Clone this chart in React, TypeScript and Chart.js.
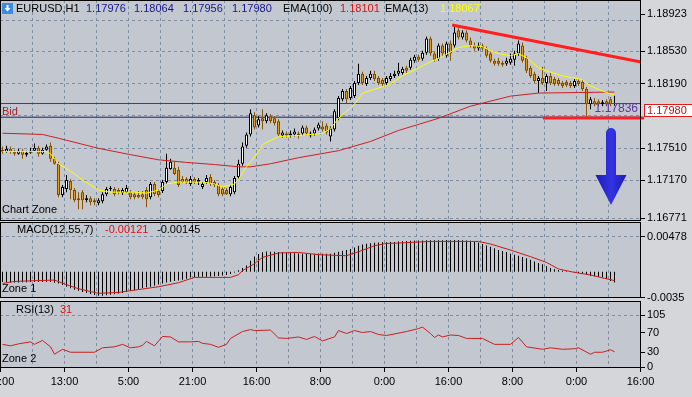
import React, { useEffect, useRef } from "react";
import { Chart, registerables } from "chart.js";

Chart.register(...registerables);

// ---------------- data (prices stored as pips above 1.17000) ----------------
const PIP_BASE = 1.17;

const openPips = [
  49.4, 47.3, 50.4, 47.3, 45.1, 48.3, 44.1, 46.2, 48.3, 51.5,
  45.1, 49.4, 53.6, 39.8, 34.5, 1.5, 7.8, 16.4, 6.8, -1.7,
  4.6, -3.9, -1.7, -3.9, -7.1, -4.9, 2.5, 7.8, 7.8, 6.8,
  3.6, 4.6, 4.6, 2.5, 1.5, 2.5, 6.8, -0.7, 13.2, 5.7,
  5.7, 15.3, 29.1, 30.2, 28.1, 18.5, 18.5, 13.2, 18.5, 15.3,
  10.0, 15.3, 20.6, 15.3, 12.1, 7.8, 6.8, 2.5, 4.6, 20.6,
  34.5, 53.6, 65.4, 85.6, 74.9, 82.4, 79.2, 84.5, 82.4, 79.2,
  64.3, 66.4, 64.3, 65.4, 66.4, 66.4, 72.8, 64.3, 66.4, 71.7,
  73.9, 74.9, 63.2, 70.7, 82.4, 102.6, 111.2, 103.7, 105.8, 119.7,
  129.3, 118.6, 125.0, 129.3, 125.0, 122.9, 119.7, 123.9, 127.1, 129.3,
  130.3, 135.6, 135.6, 143.1, 147.4, 145.2, 151.6, 166.5, 150.6, 145.2,
  159.1, 148.4, 161.2, 159.1, 175.1, 167.6, 172.9, 164.4, 159.1, 155.9,
  159.1, 155.9, 150.6, 143.1, 143.1, 141.0, 139.9, 141.0, 144.2, 150.6,
  159.1, 146.3, 135.6, 129.3, 121.8, 125.0, 119.7, 127.1, 123.9, 122.9,
  119.7, 120.7, 119.7, 116.5, 121.8, 120.7, 113.3, 97.3, 100.5, 100.5,
  97.3, 100.5, 102.6, 97.6,
];
const highPips = [
  52.6, 53.6, 52.6, 49.4, 50.4, 50.4, 48.3, 51.5, 55.8, 53.6,
  51.5, 54.7, 56.8, 41.9, 36.6, 12.1, 22.8, 18.5, 8.9, 4.6,
  6.8, 1.5, 0.4, -1.7, -1.7, 4.6, 10.0, 11.0, 10.0, 8.9,
  8.9, 12.1, 6.8, 4.6, 5.7, 5.7, 10.0, 15.3, 15.3, 7.8,
  17.4, 45.1, 39.8, 36.6, 31.3, 21.7, 20.6, 21.7, 20.6, 19.6,
  15.3, 22.8, 23.8, 17.4, 14.2, 10.0, 8.9, 12.1, 21.7, 38.7,
  56.8, 67.5, 92.0, 88.8, 84.5, 92.0, 87.7, 86.7, 84.5, 81.3,
  69.6, 68.6, 69.6, 71.7, 68.6, 74.9, 74.9, 68.6, 72.8, 78.1,
  79.2, 77.1, 73.9, 92.0, 105.8, 113.3, 113.3, 116.5, 121.8, 139.9,
  131.4, 127.1, 132.5, 132.5, 127.1, 125.0, 127.1, 130.3, 132.5, 141.0,
  136.7, 137.8, 146.3, 149.5, 149.5, 153.7, 168.7, 168.7, 152.7, 161.2,
  161.2, 163.3, 164.4, 181.4, 178.2, 175.1, 175.1, 167.6, 162.3, 162.3,
  161.2, 158.0, 152.7, 145.2, 146.3, 143.1, 146.3, 150.6, 153.7, 164.4,
  162.3, 148.4, 137.8, 131.4, 127.1, 136.7, 129.3, 130.3, 126.0, 125.0,
  121.8, 122.9, 121.8, 123.9, 123.9, 122.9, 115.4, 104.8, 103.7, 102.6,
  101.6, 102.6, 104.8, 106.4,
];
const lowPips = [
  45.1, 46.2, 45.1, 43.0, 44.1, 39.8, 41.9, 45.1, 47.3, 41.9,
  44.1, 48.3, 36.6, 33.4, -0.7, -0.7, 4.6, -2.8, -6.0, -13.5,
  -13.5, -6.0, -9.2, -9.2, -9.2, -7.1, 0.4, 5.7, 0.4, 2.5,
  1.5, 3.6, -2.8, -2.8, -1.7, -2.8, -11.3, -2.8, 0.4, -0.7,
  3.6, 13.2, 28.1, 22.8, 10.0, 14.2, 13.2, 11.0, 13.2, 12.1,
  7.8, 13.2, 11.0, 10.0, 0.4, 0.4, 1.5, 0.4, 2.5, 18.5,
  32.3, 51.5, 63.2, 70.7, 72.8, 70.7, 77.1, 77.1, 74.9, 63.2,
  62.2, 62.2, 62.2, 63.2, 61.1, 64.3, 64.3, 62.2, 64.3, 69.6,
  68.6, 65.4, 57.9, 68.6, 80.3, 100.5, 98.4, 101.6, 103.7, 117.5,
  117.5, 116.5, 122.9, 121.8, 117.5, 116.5, 117.5, 121.8, 125.0, 127.1,
  128.2, 130.3, 133.5, 141.0, 142.0, 143.1, 149.5, 148.4, 142.0, 143.1,
  148.4, 146.3, 143.1, 157.0, 165.5, 165.5, 162.3, 157.0, 153.7, 153.7,
  153.7, 146.3, 141.0, 137.8, 137.8, 136.7, 137.8, 138.8, 137.8, 148.4,
  141.0, 130.3, 125.0, 119.7, 109.0, 117.5, 111.2, 117.5, 116.5, 116.5,
  114.3, 115.4, 114.3, 114.3, 116.5, 111.2, 82.4, 92.0, 95.2, 95.2,
  95.2, 95.2, 95.2, 95.6,
];
const closePips = [
  47.3, 50.4, 47.3, 45.1, 48.3, 44.1, 46.2, 48.3, 51.5, 45.1,
  49.4, 52.6, 39.8, 34.5, 1.5, 10.0, 17.4, 6.8, -3.9, -3.9,
  -3.9, -1.7, -6.0, -6.0, -3.9, 2.5, 7.8, 8.9, 2.5, 4.6,
  6.8, 8.9, -0.7, -0.7, -0.7, -0.7, -2.8, 13.2, 2.5, 1.5,
  15.3, 30.2, 36.6, 23.8, 12.1, 15.3, 15.3, 18.5, 15.3, 17.4,
  13.2, 19.6, 13.2, 12.1, 2.5, 2.5, 2.5, 10.0, 19.6, 34.5,
  52.6, 65.4, 87.7, 72.8, 81.3, 79.2, 85.6, 79.2, 77.1, 65.4,
  67.5, 64.3, 66.4, 68.6, 64.3, 72.8, 66.4, 66.4, 70.7, 76.0,
  70.7, 67.5, 71.7, 89.9, 103.7, 111.2, 102.6, 114.3, 119.7, 129.3,
  119.7, 125.0, 129.3, 123.9, 119.7, 118.6, 125.0, 127.1, 129.3, 132.5,
  134.6, 132.5, 144.2, 147.4, 144.2, 151.6, 166.5, 150.6, 144.2, 159.1,
  150.6, 161.2, 150.6, 172.9, 167.6, 172.9, 164.4, 159.1, 155.9, 159.1,
  155.9, 148.4, 143.1, 139.9, 139.9, 138.8, 143.1, 145.2, 150.6, 161.2,
  143.1, 132.5, 127.1, 121.8, 125.0, 119.7, 127.1, 119.7, 118.6, 118.6,
  116.5, 117.5, 116.5, 121.8, 118.6, 113.3, 97.3, 102.6, 97.3, 97.3,
  99.4, 97.3, 97.3, 98.0,
];

const ema13Bars = [0, 11, 12, 14, 18, 20, 24, 27, 33, 36, 39, 41, 44, 50, 53, 55, 58, 59, 61, 64, 65, 69, 74, 80, 82, 84, 88, 90, 94, 97, 100, 104, 107, 110, 114, 117, 120, 122, 124, 127, 129, 131, 134, 136, 140, 144, 145, 147, 150, 153];
const ema13Pips = [47.3, 47.3, 45.1, 34.5, 23.8, 17.4, 6.8, 4.6, 4.6, 3.6, 6.8, 13.2, 15.3, 15.3, 13.2, 10.0, 13.2, 18.5, 31.3, 47.3, 54.7, 63.2, 64.3, 66.4, 71.7, 82.4, 97.3, 109.0, 114.3, 118.6, 127.1, 135.6, 142.0, 147.4, 157.0, 159.1, 158.0, 153.7, 150.6, 148.4, 150.6, 146.3, 135.6, 132.5, 127.1, 123.9, 122.9, 116.5, 111.2, 106.7];

const ema100Bars = [0, 10, 14, 24, 32, 39, 46, 53, 59, 62, 67, 74, 84, 92, 99, 109, 117, 127, 134, 144, 153];
const ema100Pips = [66.7, 65.4, 61.4, 50.8, 44.1, 38.7, 35.9, 33.7, 31.3, 31.3, 34.5, 40.9, 48.3, 58.0, 69.6, 82.4, 95.2, 105.8, 109.0, 109.6, 110.1];

const macdHist = [
  -0.0014, -0.00142, -0.00145, -0.00148, -0.00146, -0.00144, -0.00143, -0.0014, -0.00138, -0.0014,
  -0.00139, -0.00137, -0.0014, -0.0015, -0.0016, -0.0018, -0.00205, -0.00225, -0.00245, -0.0026,
  -0.00275, -0.0029, -0.00302, -0.00315, -0.00325, -0.00326, -0.0032, -0.00312, -0.00305, -0.00297,
  -0.0029, -0.00275, -0.0026, -0.0025, -0.00235, -0.00222, -0.00212, -0.00204, -0.0019, -0.00172,
  -0.0016, -0.00148, -0.00136, -0.00127, -0.00118, -0.00108, -0.00095, -0.0008, -0.00074, -0.0007,
  -0.00068, -0.00067, -0.00066, -0.00062, -0.00058, -0.00052, -0.00045, -0.00032, -0.0001, 0.0002,
  0.0005, 0.00085, 0.00149, 0.00205, 0.0024, 0.00265, 0.00275, 0.00272, 0.0027, 0.00268,
  0.00266, 0.00262, 0.00258, 0.0025, 0.00246, 0.00244, 0.00242, 0.00242, 0.00244, 0.00246,
  0.00245, 0.00243, 0.00244, 0.00258, 0.00272, 0.00284, 0.00294, 0.0031, 0.00328, 0.00352,
  0.00368, 0.00378, 0.00388, 0.00394, 0.00398, 0.004, 0.004, 0.00402, 0.00405, 0.0041,
  0.00415, 0.00418, 0.0042, 0.00422, 0.00424, 0.00425, 0.00428, 0.00428, 0.00426, 0.00426,
  0.00428, 0.0043, 0.00428, 0.0043, 0.0043, 0.00428, 0.00425, 0.0042, 0.00405, 0.00395,
  0.00375, 0.00355, 0.00338, 0.00318, 0.00295, 0.0028, 0.00268, 0.00245, 0.0023, 0.00215,
  0.002, 0.00182, 0.00163, 0.0014, 0.00118, 0.001, 0.00075, 0.0005, 0.00035, 0.00022,
  0.00012, 0.00005, -0.00002, -0.0001, -0.00018, -0.00025, -0.00038, -0.00055, -0.00062, -0.0007,
  -0.0008, -0.001, -0.00125, -0.00145,
];

const signalBars = [0, 3, 13, 16, 19, 24, 29, 39, 44, 48, 57, 59, 60, 63, 65, 69, 74, 79, 86, 89, 93, 96, 99, 107, 119, 122, 127, 132, 136, 139, 143, 147, 153];
const signalVals = [-0.00159, -0.00132, -0.00113, -0.00176, -0.00231, -0.00294, -0.00281, -0.00204, -0.00149, -0.00077, -0.00077, -0.00041, 0.00014, 0.00109, 0.00194, 0.00254, 0.00262, 0.00231, 0.00217, 0.00271, 0.00353, 0.00384, 0.00389, 0.00411, 0.00411, 0.00376, 0.00294, 0.00204, 0.00126, 0.00037, -0.00009, -0.00045, -0.00121];

const rsiBars = [0, 2, 4, 7, 8, 10, 12, 13, 15, 17, 23, 25, 28, 30, 32, 34, 35, 36, 38, 40, 42, 44, 47, 49, 50, 52, 54, 56, 57, 60, 62, 63, 67, 69, 71, 74, 76, 78, 80, 83, 84, 86, 88, 90, 92, 94, 96, 101, 104, 105, 107, 108, 109, 110, 112, 114, 116, 120, 123, 127, 129, 131, 135, 137, 140, 143, 144, 147, 148, 150, 152, 153];
const rsiVals = [46, 43, 47, 51, 46, 54, 41, 26, 36, 30, 30, 39, 41, 46, 39, 41, 44, 52, 43, 62, 61, 51, 51, 52, 48, 46, 40, 46, 58, 72, 76, 74, 75, 59, 58, 61, 56, 62, 53, 61, 74, 68, 74, 70, 72, 66, 64, 72, 78, 81, 68, 60, 65, 61, 65, 64, 58, 58, 46, 46, 60, 41, 36, 39, 36, 37, 39, 26, 30, 30, 35, 31];

const timeLabels = ["21:00", "13:00", "5:00", "21:00", "16:00", "8:00", "0:00", "16:00", "8:00", "0:00", "16:00"];
const priceLabelVals = [1.16771, 1.1717, 1.1751, 1.1819, 1.1853, 1.18923];
const priceGridVals = [1.16771, 1.1717, 1.1751, 1.1785, 1.1819, 1.1853, 1.1885];
const macdTickVals = [-0.0035, 0.00478];
const macdTickLabels = ["-0.0035", "0.00478"];
const rsiTickVals = [0, 30, 70, 105];
const rsiGridVals = [105];

const BID = 1.1798;
const LEVEL = 1.17836;
const trendBars = [112.4, 159.625];
const trendPrices = [1.18807, 1.18417];
const supportBars = [135.1, 160.4];
const supportPrice = 1.17827;
const arrowBar = 152;
const arrowPrices = [1.17722, 1.17227, 1.1691];

// ---------------- styling ----------------
const FONT = '"Liberation Sans", Arial, sans-serif';
const PAGE_BG = "#d4d6da";
const PLOT_BG = "#c3c8d0";
const GRID = "#7f8ea0";
const CLEAR = "rgba(0,0,0,0)";
const N_SLOTS = 160;

Chart.defaults.font.family = FONT;
Chart.defaults.font.size = 11;
Chart.defaults.color = "#000";

const toPrice = (p: number) => PIP_BASE + p / 10000;
const slot = (i: number) => i + 0.5;

function txt(ctx: any, s: string, x: number, y: number, color: string, align = "left", size = 11) {
  ctx.save();
  ctx.font = `${size}px ${FONT}`;
  ctx.fillStyle = color;
  ctx.textAlign = align;
  ctx.textBaseline = "middle";
  ctx.fillText(s, x, y);
  ctx.restore();
}

function framePlugin(id: string, draw: (chart: any) => void) {
  return {
    id,
    beforeDraw(chart: any) {
      const { ctx, chartArea: a } = chart;
      ctx.save();
      ctx.fillStyle = PLOT_BG;
      ctx.fillRect(a.left, a.top, a.right - a.left, a.bottom - a.top);
      ctx.restore();
    },
    afterDraw(chart: any) {
      const { ctx, chartArea: a } = chart;
      ctx.save();
      ctx.strokeStyle = "#000";
      ctx.lineWidth = 1;
      ctx.strokeRect(a.left + 0.5, a.top + 0.5, a.right - a.left - 1, a.bottom - a.top - 1);
      ctx.restore();
      draw(chart);
    },
  };
}

const gridSlots: number[] = [];
for (let v = 0; v <= N_SLOTS; v += 8) gridSlots.push(v);

function xScale(showLabels: boolean) {
  return {
    type: "linear",
    min: -0.125,
    max: N_SLOTS + 0.125,
    offset: false,
    afterBuildTicks: (s: any) => {
      s.ticks = gridSlots.map((v) => ({ value: v }));
    },
    afterFit: (s: any) => {
      s.height = showLabels ? 29 : 0;
      s.paddingLeft = 0;
      s.paddingRight = 0;
    },
    grid: {
      offset: false,
      color: GRID,
      lineWidth: 1,
      drawTicks: showLabels,
      tickLength: 4,
      tickColor: (c: any) => (c.tick && c.tick.value % 16 === 0 ? "#000" : CLEAR),
    },
    border: { display: false, dash: [3, 3] },
    ticks: {
      display: showLabels,
      autoSkip: false,
      maxRotation: 0,
      padding: 3,
      color: "#000",
      font: { family: FONT, size: 11 },
      callback: (v: number) => (v % 16 === 0 ? timeLabels[v / 16] : ""),
    },
  };
}

function yScale(min: number, max: number, tickVals: number[], gridVals: number[], labelOf: (v: number) => string) {
  return {
    type: "linear",
    position: "right",
    min,
    max,
    afterBuildTicks: (s: any) => {
      s.ticks = tickVals.map((v) => ({ value: v }));
    },
    afterFit: (s: any) => {
      s.width = 51;
      s.paddingTop = 0;
      s.paddingBottom = 0;
    },
    grid: {
      color: (c: any) => (c.tick && gridVals.includes(c.tick.value) ? GRID : CLEAR),
      lineWidth: 1,
      drawTicks: true,
      tickLength: 4,
      tickColor: (c: any) => (c.tick && labelOf(c.tick.value) !== "" ? "#000" : CLEAR),
    },
    border: { display: false, dash: [3, 3] },
    ticks: {
      autoSkip: false,
      padding: 2,
      color: "#000",
      font: { family: FONT, size: 11 },
      callback: (v: number) => labelOf(v),
    },
  };
}

const common = {
  animation: false,
  responsive: false,
  devicePixelRatio: 1,
  events: [],
  plugins: { legend: { display: false }, tooltip: { enabled: false } },
};

function mainConfig(): any {
  const bull = closePips.map((c, i) => c >= openPips[i]);
  const bodies = openPips.map((o, i) => ({ x: slot(i), y: [toPrice(o), toPrice(closePips[i])] }));
  const wicks = highPips.map((h, i) => ({ x: slot(i), y: [toPrice(lowPips[i]), toPrice(h)] }));
  const line = (xs: number[], ys: number[]) => xs.map((x, i) => ({ x: slot(x), y: ys[i] }));
  const priceTicks = Array.from(new Set([...priceLabelVals, ...priceGridVals])).sort((a, b) => a - b);

  const deco = framePlugin("mainDeco", (chart: any) => {
    const { ctx, chartArea: a, scales } = chart;
    const xs = scales.x;
    const ys = scales.y;
    const n = closePips.length - 1;
    // header
    ctx.save();
    ctx.fillStyle = "#3b8be0";
    ctx.fillRect(2, 3, 11, 11);
    ctx.fillStyle = "#fff";
    ctx.beginPath();
    ctx.moveTo(6.5, 5);
    ctx.lineTo(8.5, 5);
    ctx.lineTo(8.5, 8);
    ctx.lineTo(10.5, 8);
    ctx.lineTo(7.5, 11.5);
    ctx.lineTo(4.5, 8);
    ctx.lineTo(6.5, 8);
    ctx.closePath();
    ctx.fill();
    ctx.restore();
    const hy = 9;
    txt(ctx, "EURUSD,H1", 16, hy, "#000");
    txt(ctx, toPrice(openPips[n]).toFixed(5), 86, hy, "#16168a");
    txt(ctx, toPrice(highPips[n]).toFixed(5), 134, hy, "#16168a");
    txt(ctx, toPrice(lowPips[n]).toFixed(5), 183, hy, "#16168a");
    txt(ctx, toPrice(closePips[n]).toFixed(5), 232, hy, "#16168a");
    txt(ctx, "EMA(100)", 283, hy, "#000");
    txt(ctx, toPrice(ema100Pips[ema100Pips.length - 1]).toFixed(5), 340, hy, "#e01010");
    txt(ctx, "EMA(13)", 385, hy, "#000");
    txt(ctx, toPrice(ema13Pips[ema13Pips.length - 1]).toFixed(5), 440, hy, "#ffff00");

    // labels for horizontal lines
    const yb = Math.round(ys.getPixelForValue(BID));
    const yl = ys.getPixelForValue(LEVEL);
    txt(ctx, "Bid", 2, yb + 8, "#9e1f1f");
    txt(ctx, LEVEL.toFixed(5), 638, yl - 8.5, "#5b3aa0", "right", 12);
    txt(ctx, "Chart Zone", 2, a.bottom - 11, "#000");

    // bid price box on the axis
    ctx.save();
    ctx.fillStyle = "#fff";
    ctx.fillRect(644, yb, 50, 13);
    ctx.strokeStyle = "#e01b1b";
    ctx.lineWidth = 1;
    ctx.strokeRect(644.5, yb + 0.5, 52, 12);
    ctx.restore();
    txt(ctx, BID.toFixed(5), 647, yb + 7, "#c01010");

    // blue arrow
    const cx = Math.round(xs.getPixelForValue(slot(arrowBar)));
    const yTop = ys.getPixelForValue(arrowPrices[0]);
    const yNeck = ys.getPixelForValue(arrowPrices[1]);
    const yTip = ys.getPixelForValue(arrowPrices[2]);
    ctx.save();
    const g = ctx.createLinearGradient(cx - 16, 0, cx + 16, 0);
    g.addColorStop(0, "#1a1ab4");
    g.addColorStop(0.5, "#3434e4");
    g.addColorStop(1, "#1a1ab4");
    ctx.fillStyle = g;
    ctx.beginPath();
    ctx.moveTo(cx - 5, yNeck);
    ctx.lineTo(cx - 5, yTop + 5);
    ctx.arc(cx, yTop + 5, 5, Math.PI, 0);
    ctx.lineTo(cx + 5, yNeck);
    ctx.lineTo(cx + 15.5, yNeck);
    ctx.lineTo(cx, yTip);
    ctx.lineTo(cx - 15.5, yNeck);
    ctx.closePath();
    ctx.fill();
    ctx.restore();
  });

  return {
    type: "bar",
    data: {
      datasets: [
        {
          type: "line",
          data: trendBars.map((b, i) => ({ x: slot(b), y: trendPrices[i] })),
          borderColor: "#ff1f1f",
          borderWidth: 3,
          pointRadius: 0,
          order: 0,
          clip: false,
        },
        {
          type: "line",
          data: supportBars.map((b) => ({ x: slot(b), y: supportPrice })),
          borderColor: "#ff1f1f",
          borderWidth: 3,
          pointRadius: 0,
          order: 0,
          clip: false,
        },
        {
          type: "line",
          data: line(ema13Bars, ema13Pips.map(toPrice)),
          borderColor: "#ffff00",
          borderWidth: 1,
          pointRadius: 0,
          order: 1,
        },
        {
          type: "line",
          data: line(ema100Bars, ema100Pips.map(toPrice)),
          borderColor: "#cc2020",
          borderWidth: 1,
          pointRadius: 0,
          order: 2,
        },
        {
          type: "bar",
          data: bodies,
          backgroundColor: bull.map((b) => (b ? "#ffffff" : "#e59a10")),
          borderColor: bull.map((b) => (b ? "#000000" : "#7a4a00")),
          borderWidth: 1,
          borderSkipped: false,
          grouped: false,
          barThickness: 3,
          maxBarThickness: 3,
          minBarLength: 1,
          inflateAmount: 0,
          order: 3,
        },
        {
          type: "bar",
          data: wicks,
          backgroundColor: bull.map((b) => (b ? "#000000" : "#8a5400")),
          borderWidth: 0,
          grouped: false,
          barThickness: 1,
          maxBarThickness: 1,
          inflateAmount: 0,
          order: 4,
        },
        {
          type: "line",
          data: [{ x: -0.125, y: BID }, { x: N_SLOTS + 0.125, y: BID }],
          borderColor: "#9e1f1f",
          borderWidth: 1,
          pointRadius: 0,
          order: 5,
        },
        {
          type: "line",
          data: [{ x: -0.125, y: LEVEL }, { x: N_SLOTS + 0.125, y: LEVEL }],
          borderColor: "#1e1e78",
          borderWidth: 1,
          pointRadius: 0,
          order: 5,
        },
      ],
    },
    options: {
      ...common,
      layout: { padding: { top: 0, bottom: 3, left: 0, right: 0 } },
      scales: {
        x: xScale(false),
        y: yScale(1.16742, 1.19071, priceTicks, priceGridVals, (v) =>
          priceLabelVals.includes(v) ? v.toFixed(5) : ""
        ),
      },
    },
    plugins: [deco],
  };
}

function macdConfig(): any {
  const n = macdHist.length - 1;
  const deco = framePlugin("macdDeco", (chart: any) => {
    const { ctx, chartArea: a } = chart;
    txt(ctx, "MACD(12,55,7)", 17, a.top + 8, "#000");
    txt(ctx, signalVals[signalVals.length - 1].toFixed(5), 105, a.top + 8, "#e01010");
    txt(ctx, macdHist[n].toFixed(5), 157, a.top + 8, "#000");
    txt(ctx, "Zone 1", 2, a.bottom - 9, "#000");
  });
  return {
    type: "bar",
    data: {
      datasets: [
        {
          type: "line",
          data: signalBars.map((b, i) => ({ x: slot(b), y: signalVals[i] })),
          borderColor: "#d41414",
          borderWidth: 1,
          pointRadius: 0,
          order: 0,
        },
        {
          type: "bar",
          data: macdHist.map((v, i) => ({ x: slot(i), y: v })),
          backgroundColor: "#000",
          borderWidth: 0,
          grouped: false,
          barThickness: 1,
          maxBarThickness: 1,
          inflateAmount: 0,
          order: 1,
        },
      ],
    },
    options: {
      ...common,
      layout: { padding: { top: 1, bottom: 5, left: 0, right: 0 } },
      scales: {
        x: xScale(false),
        y: yScale(-0.003568, 0.006748, macdTickVals, [0.00478], (v) => {
          const k = macdTickVals.indexOf(v);
          return k >= 0 ? macdTickLabels[k] : "";
        }),
      },
    },
    plugins: [deco],
  };
}

function rsiConfig(): any {
  const deco = framePlugin("rsiDeco", (chart: any) => {
    const { ctx, chartArea: a } = chart;
    txt(ctx, "RSI(13)", 16, a.top + 9, "#000");
    txt(ctx, String(rsiVals[rsiVals.length - 1]), 60, a.top + 9, "#e01010");
    txt(ctx, "Zone 2", 2, a.bottom - 9, "#000");
  });
  return {
    type: "line",
    data: {
      datasets: [
        {
          data: rsiBars.map((b, i) => ({ x: slot(b), y: rsiVals[i] })),
          borderColor: "#cc1f1f",
          borderWidth: 1,
          pointRadius: 0,
          tension: 0,
        },
      ],
    },
    options: {
      ...common,
      layout: { padding: { top: 1, bottom: 0, left: 0, right: 0 } },
      scales: {
        x: xScale(true),
        y: yScale(-2, 134, rsiTickVals, rsiGridVals, (v) => (rsiTickVals.includes(v) ? String(v) : "")),
      },
    },
    plugins: [deco],
  };
}

export default function App() {
  const mainRef = useRef<HTMLCanvasElement>(null);
  const macdRef = useRef<HTMLCanvasElement>(null);
  const rsiRef = useRef<HTMLCanvasElement>(null);

  useEffect(() => {
    const charts = [
      new Chart(mainRef.current as HTMLCanvasElement, mainConfig()),
      new Chart(macdRef.current as HTMLCanvasElement, macdConfig()),
      new Chart(rsiRef.current as HTMLCanvasElement, rsiConfig()),
    ];
    return () => charts.forEach((c) => c.destroy());
  }, []);

  const cv = (top: number, h: number): React.CSSProperties => ({
    position: "absolute",
    left: 0,
    top,
    width: 692,
    height: h,
  });

  return (
    <div
      style={{
        position: "fixed",
        left: 0,
        top: 0,
        width: 692,
        height: 397,
        background: PAGE_BG,
        overflow: "hidden",
      }}
    >
      <canvas ref={mainRef} width={692} height={224} style={cv(0, 224)} />
      <canvas ref={macdRef} width={692} height={82} style={cv(221, 82)} />
      <canvas ref={rsiRef} width={692} height={97} style={cv(300, 97)} />
    </div>
  );
}
